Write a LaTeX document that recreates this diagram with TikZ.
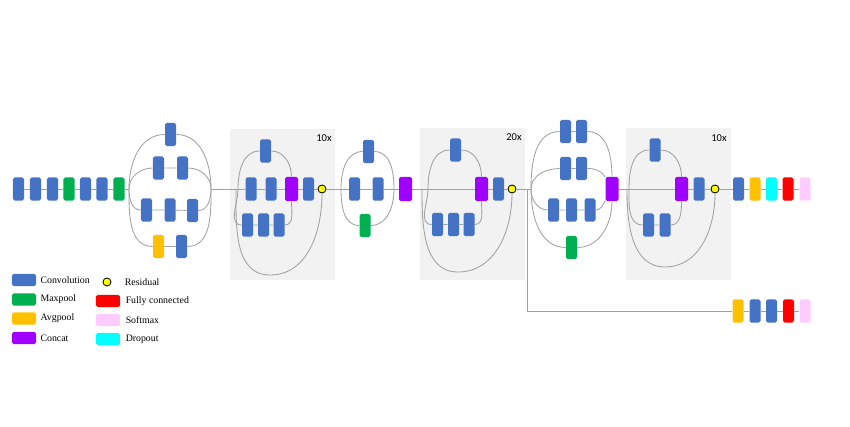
\documentclass[tikz,border=0pt]{standalone}
\usepackage{fontspec}
\setmainfont{Liberation Serif}
\newfontfamily\repfont{Carlito}
\usetikzlibrary{positioning}
\definecolor{my_blue}{RGB}{68,114,196}
\definecolor{my_green}{RGB}{0,176,80}
\definecolor{my_amber}{RGB}{255,192,0}
\definecolor{my_purple}{RGB}{160,0,255}
\definecolor{my_red}{RGB}{255,0,0}
\definecolor{my_pink}{RGB}{255,204,255}
\definecolor{my_cyan}{RGB}{0,255,255}
\definecolor{my_yellow}{RGB}{255,255,0}
\definecolor{my_gray}{RGB}{160,160,160}
\definecolor{my_bg}{RGB}{242,242,242}
\tikzset{
  blk/.style = {rectangle, rounded corners=1.2pt, draw=none, inner sep=0pt,
  minimum width=0.275cm, minimum height=0.575cm},
  blk_conv/.style = {blk, fill=my_blue},
  blk_mp/.style = {blk, fill=my_green},
  blk_ap/.style = {blk, fill=my_amber},
  blk_cat/.style = {blk, fill=my_purple, minimum width=0.325cm, minimum height=0.6cm},
  blk_fc/.style = {blk, fill=my_red},
  blk_sm/.style = {blk, fill=my_pink},
  blk_do/.style = {blk, fill=my_cyan},
  res/.style = {circle, draw=black, fill=my_yellow, line width=0.6pt, inner sep=0pt,
  minimum size=0.2cm},
  key/.style = {rectangle, rounded corners=1.2pt, inner sep=0pt,
  minimum width=0.6cm, minimum height=0.3cm},
  keytxt/.style = {anchor=west, inner sep=0pt, font=\fontsize{7}{8}\selectfont}
}

\begin{document}
\begin{tikzpicture}[x=0.025cm, y=0.025cm,
            wire/.style={draw=my_gray, line width=0.6pt},
            modbox/.style={fill=my_bg},
            reptxt/.style={font=\repfont\fontsize{7.5}{8}\selectfont, inner sep=0pt}]
\useasboundingbox (0,0) rectangle (850,-427);
% repeated modules
\fill[modbox] (230,-129) rectangle (335,-280);
\fill[modbox] (420,-128) rectangle (525,-280);
\fill[modbox] (626,-128) rectangle (731,-280);
\node[reptxt] (rep_a) at (324,-138) {10x};
\node[reptxt] (rep_b) at (514,-137) {20x};
\node[reptxt] (rep_c) at (719,-138) {10x};

% stem
\node[blk_conv] (s1) at (18.5,-189) {};
\node[blk_conv] (s2) at (35.5,-189) {};
\node[blk_conv] (s3) at (52.5,-189) {};
\node[blk_mp] (s4) at (69,-189) {};
\node[blk_conv] (s5) at (85.5,-189) {};
\node[blk_conv] (s6) at (102,-189) {};
\node[blk_mp] (s7) at (119,-189) {};

% stem inception
\coordinate (a_in) at (129,-189);
\coordinate (a_out) at (211,-189);
\node[blk_conv] (a1) at (170.5,-134.5) {};
\node[blk_conv] (a21) at (158.5,-168) {};
\node[blk_conv] (a22) at (182.5,-168) {};
\node[blk_conv] (a31) at (146.5,-210) {};
\node[blk_conv] (a32) at (170,-210) {};
\node[blk_conv] (a33) at (192.5,-210.5) {};
\node[blk_ap] (a41) at (158.5,-246.5) {};
\node[blk_conv] (a42) at (181.5,-246.5) {};

% inception-resnet-a
\coordinate (b_in) at (238,-189);
\coordinate (rb_in) at (236,-189);
\coordinate (rb_bot) at (270,-275);
\node[blk_conv] (b1) at (265.5,-151) {};
\node[blk_conv] (b21) at (251,-189) {};
\node[blk_conv] (b22) at (271,-189) {};
\node[blk_cat] (bcat) at (291.5,-189) {};
\node[blk_conv] (b23) at (308.5,-189) {};
\node[blk_conv] (b31) at (247.5,-225) {};
\node[blk_conv] (b32) at (263.5,-225) {};
\node[blk_conv] (b33) at (279,-225) {};
\node[res] (res1) at (322,-189) {};

% reduction-a
\coordinate (c_in) at (341,-189);
\coordinate (c_out) at (394,-189);
\node[blk_conv] (c1) at (368.5,-151.5) {};
\node[blk_conv] (c21) at (354.5,-189) {};
\node[blk_conv] (c22) at (378,-189) {};
\node[blk_mp] (c3) at (365,-225.5) {};
\node[blk_cat] (ccat) at (405.5,-189) {};

% inception-resnet-b
\coordinate (d_in) at (428,-189);
\coordinate (rd_in) at (422,-189);
\coordinate (rd_bot) at (458,-272);
\node[blk_conv] (d1) at (455.5,-150) {};
\node[blk_cat] (dcat) at (481.5,-189) {};
\node[blk_conv] (d2) at (498.5,-189) {};
\node[blk_conv] (d31) at (437.5,-224.5) {};
\node[blk_conv] (d32) at (453.5,-224.5) {};
\node[blk_conv] (d33) at (469,-224.5) {};
\node[res] (res2) at (512,-189) {};

% reduction-b
\coordinate (aux_in) at (527,-189);
\coordinate (e_in) at (531,-189);
\node[blk_conv] (e1a) at (565.5,-131.5) {};
\node[blk_conv] (e1b) at (581.5,-131.5) {};
\node[blk_conv] (e2a) at (565.5,-168.5) {};
\node[blk_conv] (e2b) at (581.5,-168.5) {};
\node[blk_conv] (e3a) at (553.5,-210) {};
\node[blk_conv] (e3b) at (571.5,-210) {};
\node[blk_conv] (e3c) at (590,-210) {};
\node[blk_mp] (e4) at (571.5,-247.5) {};
\node[blk_cat] (ecat) at (612,-189) {};

% inception-resnet-c
\coordinate (f_in) at (629,-189);
\coordinate (rf_in) at (627,-189);
\coordinate (rf_bot) at (665,-267);
\node[blk_conv] (f1) at (655,-150) {};
\node[blk_cat] (fcat) at (681.5,-189) {};
\node[blk_conv] (f2) at (699,-189) {};
\node[blk_conv] (f31) at (648.5,-225) {};
\node[blk_conv] (f32) at (665,-225) {};
\node[res] (res3) at (715,-189) {};

% head
\node[blk_conv] (g1) at (738.5,-189) {};
\node[blk_ap] (g2) at (755,-189) {};
\node[blk_do] (g3) at (771.5,-189) {};
\node[blk_fc] (g4) at (788,-189) {};
\node[blk_sm] (g5) at (805,-189) {};

% auxiliary head
\node[blk_ap] (x1) at (738,-311) {};
\node[blk_conv] (x2) at (755,-311) {};
\node[blk_conv] (x3) at (771.5,-311) {};
\node[blk_fc] (x4) at (788.5,-311) {};
\node[blk_sm] (x5) at (805,-311) {};

% main line
\draw[wire] (s1) -- (s2) -- (s3) -- (s4) -- (s5) -- (s6) -- (s7) -- (a_in);
\draw[wire] (a_out) -- (b21) -- (b22) -- (bcat) -- (b23) -- (res1) -- (c21) -- (c22)
  -- (ccat) -- (dcat) -- (d2) -- (res2) -- (e_in);
\draw[wire] (ecat) -- (fcat) -- (f2) -- (res3) -- (g1) -- (g2) -- (g3) -- (g4) -- (g5);
\draw[wire] (aux_in) |- (x1) -- (x2) -- (x3) -- (x4) -- (x5);

% branches
\draw[wire] (a_in) to[out=90,in=180] (a1) to[out=0,in=90] (a_out);
\draw[wire] (a_in) to[out=90,in=180] (a21) -- (a22) to[out=0,in=90] (a_out);
\draw[wire] (a_in) to[out=-90,in=180] (a31) -- (a32) -- (a33) to[out=0,in=-90] (a_out);
\draw[wire] (a_in) to[out=-90,in=180] (a41) -- (a42) to[out=0,in=-90] (a_out);

\draw[wire] (b_in) to[out=90,in=180] (b1) to[out=0,in=90] (bcat);
\draw[wire] (b_in) to[out=-90,in=180] (b31) -- (b32) -- (b33) to[out=0,in=-90] (bcat);
\draw[wire] (rb_in) to[out=-90,in=180] (rb_bot) to[out=0,in=-90] (res1);

\draw[wire] (c_in) to[out=90,in=180] (c1) to[out=0,in=90] (c_out);
\draw[wire] (c_in) to[out=-90,in=180] (c3) to[out=0,in=-90] (c_out);

\draw[wire] (d_in) to[out=90,in=180] (d1) to[out=0,in=90] (dcat);
\draw[wire] (d_in) to[out=-90,in=180] (d31) -- (d32) -- (d33) to[out=0,in=-90] (dcat);
\draw[wire] (rd_in) to[out=-90,in=180] (rd_bot) to[out=0,in=-90] (res2);

\draw[wire] (e_in) to[out=90,in=180] (e1a) -- (e1b) to[out=0,in=90] (ecat);
\draw[wire] (e_in) to[out=90,in=180] (e2a) -- (e2b) to[out=0,in=120] (ecat);
\draw[wire] (e_in) to[out=-90,in=180] (e3a) -- (e3b) -- (e3c) to[out=0,in=-120] (ecat);
\draw[wire] (e_in) to[out=-90,in=180] (e4) to[out=0,in=-90] (ecat);

\draw[wire] (f_in) to[out=90,in=180] (f1) to[out=0,in=90] (fcat);
\draw[wire] (f_in) to[out=-90,in=180] (f31) -- (f32) to[out=0,in=-90] (fcat);
\draw[wire] (rf_in) to[out=-90,in=180] (rf_bot) to[out=0,in=-90] (res3);

% legend
\node[key, fill=my_blue] (k1) at (24,-280) {};
\node[key, fill=my_green] (k2) at (24,-299.5) {};
\node[key, fill=my_amber] (k3) at (24,-318.5) {};
\node[key, fill=my_purple] (k4) at (24,-338) {};
\node[res] (k5) at (107,-282) {};
\node[key, fill=my_red] (k6) at (108,-301) {};
\node[key, fill=my_pink] (k7) at (108,-320) {};
\node[key, fill=my_cyan] (k8) at (108,-339) {};
\node[keytxt, right=0.1cm of k1] (t1) {Convolution};
\node[keytxt, right=0.1cm of k2] (t2) {Maxpool};
\node[keytxt, right=0.1cm of k3] (t3) {Avgpool};
\node[keytxt, right=0.1cm of k4] (t4) {Concat};
\node[keytxt, right=0.33cm of k5] (t5) {Residual};
\node[keytxt, right=0.13cm of k6] (t6) {Fully connected};
\node[keytxt, right=0.13cm of k7] (t7) {Softmax};
\node[keytxt, right=0.13cm of k8] (t8) {Dropout};
\end{tikzpicture}
\end{document}
